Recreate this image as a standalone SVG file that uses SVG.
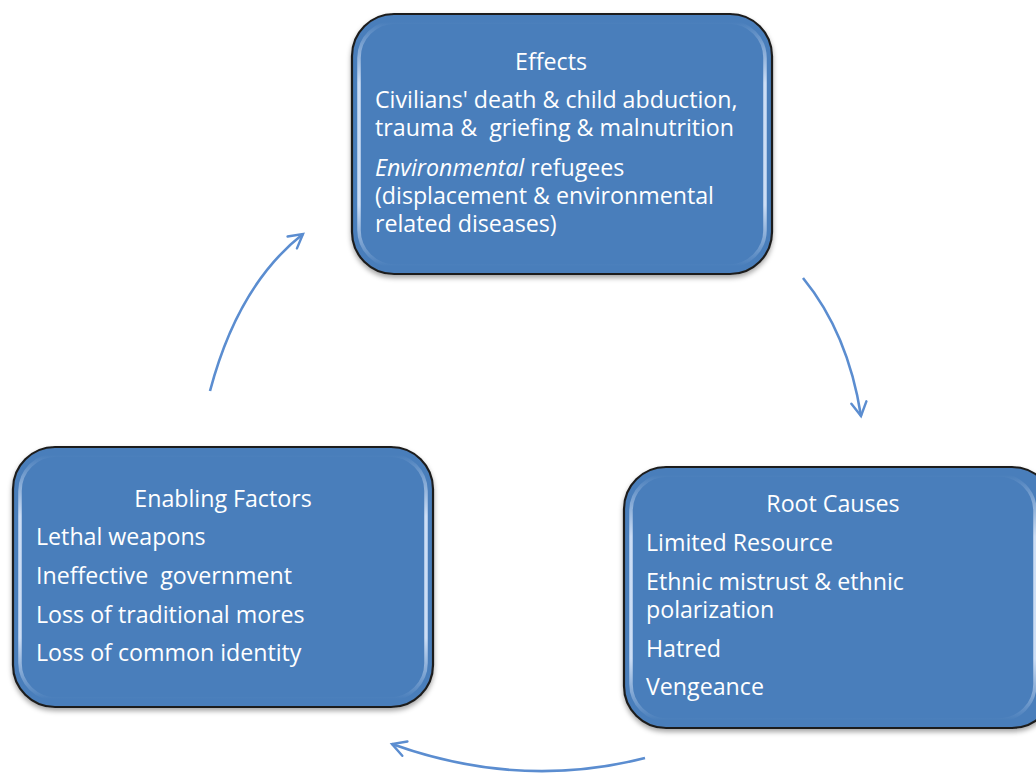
<svg xmlns="http://www.w3.org/2000/svg" width="1036" height="773" viewBox="0 0 1036 773">
<defs>
<style>
.box{fill:#4a7ebb;stroke:#1f1f1f;stroke-width:2.2}
.hl{fill:none;stroke:url(#hlg);stroke-width:3.5}
.t{font-family:"Open Sans","Liberation Sans",sans-serif;font-size:23.2px;fill:#ffffff}
.c{text-anchor:middle}
.arr{fill:none;stroke:#5b8dd0;stroke-width:2.6;marker-end:url(#ah)}
</style>
<linearGradient id="hlg" x1="0" y1="0" x2="0" y2="1">
<stop offset="0" stop-color="#dbe8fb" stop-opacity="0"/>
<stop offset="0.25" stop-color="#dbe8fb" stop-opacity="0.9"/>
<stop offset="0.75" stop-color="#dbe8fb" stop-opacity="0.9"/>
<stop offset="1" stop-color="#dbe8fb" stop-opacity="0"/>
</linearGradient>
<filter id="sh" x="-5%" y="-5%" width="110%" height="115%">
<feDropShadow dx="0" dy="3" stdDeviation="2.5" flood-color="#000" flood-opacity="0.35"/>
</filter>
<marker id="ah" viewBox="0 0 12 12" refX="10" refY="6" markerWidth="7" markerHeight="7" orient="auto" markerUnits="strokeWidth">
<path d="M1,1 L10,6 L1,11" fill="none" stroke="#5b8dd0" stroke-width="1.6" stroke-linecap="round"/>
</marker>
</defs>
<rect width="1036" height="773" fill="#ffffff"/>
<g id="connectors">
<path class="arr" d="M210,391 Q238,285 303,234"/>
<path class="arr" d="M803,278 Q848,333 861,416"/>
<path class="arr" d="M645,758 Q520,790 392,744"/>
</g>
<g id="effects">
<rect class="box" filter="url(#sh)" x="352" y="14" width="420" height="260" rx="42"/>
<rect class="hl" x="359" y="22" width="406" height="244" rx="36"/>
<text class="t c" x="551" y="70">Effects</text>
<text class="t" x="375" y="108">Civilians' death &amp; child abduction,</text>
<text class="t" x="375" y="136" xml:space="preserve">trauma &amp;  griefing &amp; malnutrition</text>
<text class="t" x="375" y="176"><tspan font-style="italic">Environmental</tspan> refugees</text>
<text class="t" x="375" y="204">(displacement &amp; environmental</text>
<text class="t" x="375" y="232">related diseases)</text>
</g>
<g id="root-causes">
<rect class="box" filter="url(#sh)" x="624" y="467" width="430" height="261" rx="42"/>
<rect class="hl" x="631" y="475" width="404" height="245" rx="36"/>
<text class="t c" x="833" y="512">Root Causes</text>
<text class="t" x="646" y="551">Limited Resource</text>
<text class="t" x="646" y="590">Ethnic mistrust &amp; ethnic</text>
<text class="t" x="646" y="618">polarization</text>
<text class="t" x="646" y="657">Hatred</text>
<text class="t" x="646" y="695">Vengeance</text>
</g>
<g id="enabling-factors">
<rect class="box" filter="url(#sh)" x="13" y="447" width="420" height="260" rx="42"/>
<rect class="hl" x="20" y="455" width="406" height="244" rx="36"/>
<text class="t c" x="223" y="507">Enabling Factors</text>
<text class="t" x="36" y="545">Lethal weapons</text>
<text class="t" x="36" y="584" xml:space="preserve">Ineffective  government</text>
<text class="t" x="36" y="623">Loss of traditional mores</text>
<text class="t" x="36" y="661">Loss of common identity</text>
</g>
</svg>
